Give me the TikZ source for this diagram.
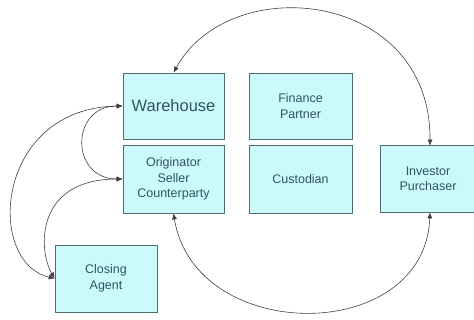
\documentclass[tikz,border=0pt]{standalone}
\usepackage{fontspec}
\setmainfont{Liberation Sans}
\usetikzlibrary{arrows.meta}
\definecolor{boxfill}{HTML}{CCFAFA}
\definecolor{boxline}{HTML}{4F6E74}
\definecolor{boxtext}{HTML}{2E5562}
\tikzset{
  party/.style={draw=boxline, line width=0.7pt, fill=boxfill, text=boxtext,
    minimum width=101pt, minimum height=66pt, inner sep=0pt, align=center,
    font=\fontsize{12.5}{15.5}\selectfont},
  link/.style={draw=black!75, line width=0.6pt,
    {Latex[length=6pt,width=5pt]}-{Latex[length=6pt,width=5pt]}}
}
\begin{document}
\begin{tikzpicture}[x=1pt,y=-1pt]
\useasboundingbox (0,0) rectangle (474,320);
\clip (0,0) rectangle (474,320);
% parties
\node[party, font=\fontsize{16.5}{19}\selectfont] (wh) at (173.5,106) {Warehouse};
\node[party, minimum height=68pt] (or) at (173.5,179) {Originator\\Seller\\Counterparty};
\node[party, minimum width=103pt] (fp) at (300.5,106) {Finance\\Partner};
\node[party, minimum width=103pt, minimum height=68pt] (cu) at (300.5,179) {Custodian};
% the investor box runs off the right-hand edge
\node[party, draw=none, minimum width=94pt] (inv) at (428,179) {Investor\\Purchaser};
\draw[boxline, line width=0.7pt] ([xshift=10pt]inv.north east) -- (inv.north west)
  -- (inv.south west) -- ([xshift=10pt]inv.south east);
\node[party, minimum width=102pt, minimum height=67pt] (cl) at (106,278.5) {Closing\\Agent};
% flows
\draw[link] (wh.north) .. controls (230,-30) and (431,-10) .. ([xshift=2pt]inv.north);
\draw[link] (or.south) .. controls (195,345) and (425,345) .. ([xshift=2pt]inv.south);
\draw[link] (wh.west) .. controls (-5,108) and (-15,262) .. (cl.west);
\draw[link] (wh.west) .. controls (70,106) and (70,179) .. (or.west);
\draw[link] (or.west) .. controls (35,179) and (38,250) .. (cl.west);
\end{tikzpicture}
\end{document}
